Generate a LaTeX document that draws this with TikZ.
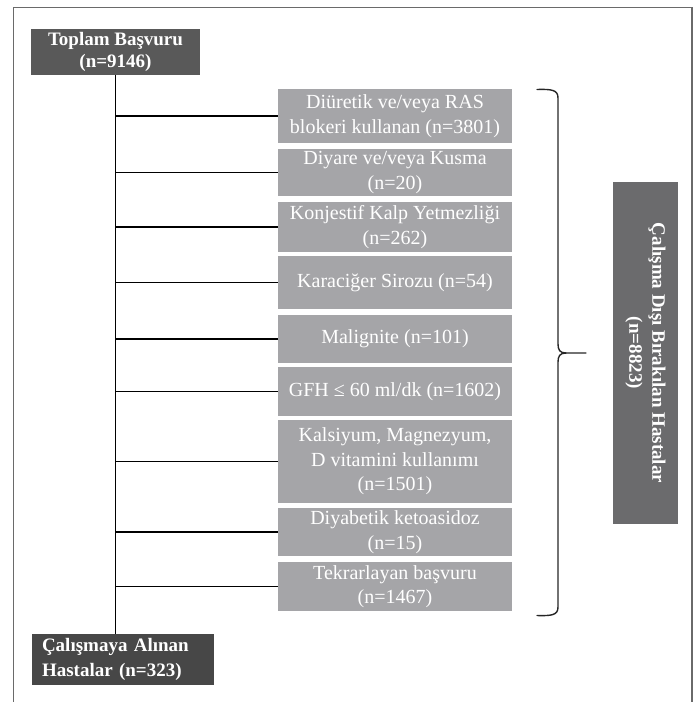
\documentclass[tikz,border=0pt]{standalone}
\usepackage{fontspec}
\setmainfont{Liberation Serif}
\definecolor{framecol}{HTML}{6A6A6A}
\definecolor{darkbox}{HTML}{595959}
\definecolor{darkerbox}{HTML}{474747}
\definecolor{sidebox}{HTML}{6B6B6D}
\definecolor{lightbox}{HTML}{A5A5A8}
\begin{document}
\begin{tikzpicture}[x=1pt,y=-1pt,
  lightstep/.style={fill=lightbox, text=white, inner sep=0pt, minimum width=234pt, align=center,
    font=\fontsize{20}{24.5}\selectfont},
  darkstep/.style={fill=darkbox, text=white, inner sep=0pt, align=center,
    font=\bfseries\fontsize{19}{22}\selectfont},
  conn/.style={draw=black, line width=1.4pt}
]
\useasboundingbox (0,0) rectangle (693,702);
\draw[framecol, line width=1.6pt] (13.5,702) -- (13.5,7.5) -- (692,7.5) -- (692,702);

\node[darkstep, minimum width=169pt, minimum height=46pt] (top) at (115.5,52) {Toplam Başvuru\\(n=9146)};
\node[darkstep, fill=darkerbox, minimum width=182pt, minimum height=51pt, align=left, text width=162pt,
  font=\bfseries\fontsize{19}{25}\selectfont] (bot) at (123,659.5) {Çalışmaya Alınan\\Hastalar (n=323)};

\node[lightstep, minimum height=54pt] (b1) at (395,116) {Diüretik ve/veya RAS\\blokeri kullanan (n=3801)};
\node[lightstep, minimum height=47pt] (b2) at (395,172.5) {Diyare ve/veya Kusma\\(n=20)};
\node[lightstep, minimum height=50pt] (b3) at (395,227) {Konjestif Kalp Yetmezliği\\(n=262)};
\node[lightstep, minimum height=53pt] (b4) at (395,282.5) {Karaciğer Sirozu (n=54)};
\node[lightstep, minimum height=48pt] (b5) at (395,339) {Malignite (n=101)};
\node[lightstep, minimum height=49pt] (b6) at (395,391.5) {GFH ≤ 60 ml/dk (n=1602)};
\node[lightstep, minimum height=83pt] (b7) at (395,461.5) {Kalsiyum, Magnezyum,\\D vitamini kullanımı\\(n=1501)};
\node[lightstep, minimum height=48pt] (b8) at (395,532) {Diyabetik ketoasidoz\\(n=15)};
\node[lightstep, minimum height=49pt] (b9) at (395,586.5) {Tekrarlayan başvuru\\(n=1467)};

\node[darkstep, fill=sidebox, rotate=-90, minimum width=342pt, minimum height=65pt,
  font=\bfseries\fontsize{19}{23}\selectfont] (side) at (645.5,353) {Çalışma Dışı Bırakılan Hastalar\\(n=8823)};

\draw[conn] (top.south) -- (top.south |- bot.north);
\foreach \b in {b1,b2,b3,b4,b5,b6,b7,b8,b9}{
  \draw[conn] (\b.west -| top.south) -- (\b.west);
}

% brace
\draw[black!85, line width=1.4pt, line cap=round]
  (537,89.5) .. controls (552,89) and (558,90) .. (558,98)
  -- (558,344) .. controls (558,350) and (560,353) .. (566,353) -- (586,353);
\draw[black!85, line width=1.4pt, line cap=round]
  (537,615.5) .. controls (552,616) and (558,615) .. (558,607)
  -- (558,362) .. controls (558,356) and (560,353) .. (566,353);
\end{tikzpicture}
\end{document}
